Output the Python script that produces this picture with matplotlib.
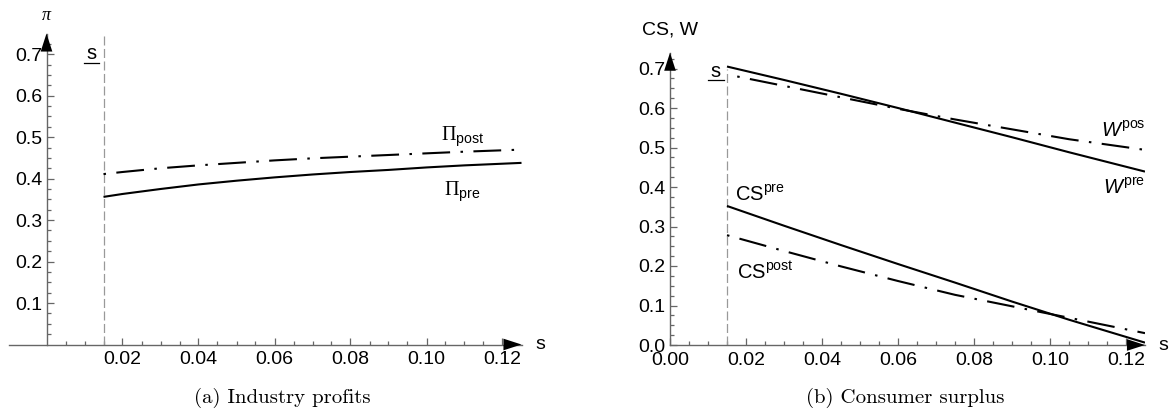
import matplotlib
matplotlib.use('Agg')
import matplotlib.pyplot as plt
from matplotlib.ticker import FixedLocator, FormatStrFormatter

plt.rcParams['font.family'] = ['Liberation Sans', 'DejaVu Sans']
plt.rcParams['mathtext.fontset'] = 'custom'
plt.rcParams['mathtext.rm'] = 'Liberation Serif'
plt.rcParams['mathtext.sf'] = 'Liberation Sans'
plt.rcParams['mathtext.it'] = 'Liberation Sans:italic'
plt.rcParams['lines.scale_dashes'] = False

# ---------------- data ----------------
s_left = [0.015, 0.02, 0.03, 0.04, 0.05, 0.06, 0.07, 0.08, 0.09, 0.10, 0.11, 0.125]
pi_pre = [0.356, 0.363, 0.375, 0.386, 0.395, 0.403, 0.410, 0.416, 0.421, 0.427, 0.432, 0.438]
pi_post = [0.411, 0.416, 0.425, 0.432, 0.438, 0.444, 0.449, 0.453, 0.457, 0.461, 0.465, 0.470]

s_right = [0.015, 0.03, 0.045, 0.06, 0.075, 0.09, 0.105, 0.125]
w_pre = [0.705, 0.671, 0.636, 0.600, 0.563, 0.526, 0.488, 0.439]
w_post = [0.685, 0.656, 0.627, 0.598, 0.571, 0.546, 0.521, 0.494]
cs_pre = [0.352, 0.302, 0.253, 0.205, 0.158, 0.110, 0.064, 0.006]
cs_post = [0.278, 0.238, 0.199, 0.162, 0.127, 0.098, 0.069, 0.030]

s_lower = 0.015
left_xticks = [0.02, 0.04, 0.06, 0.08, 0.10, 0.12]
left_yticks = [0.1, 0.2, 0.3, 0.4, 0.5, 0.6, 0.7]
right_xticks = [0.00, 0.02, 0.04, 0.06, 0.08, 0.10, 0.12]
right_yticks = [0.0, 0.1, 0.2, 0.3, 0.4, 0.5, 0.6, 0.7]
minor_x = [i * 0.005 for i in range(1, 25) if i % 4 != 0]
minor_y = [i * 0.025 for i in range(1, 30) if i % 4 != 0]

DASHDOT = (20, 7.5, 1.8, 7.5)
AX_COLOR = '#666666'
TICK_FS = 14
LAB_FS = 14.5

fig = plt.figure(figsize=(11.71, 4.13), dpi=100)
axL = fig.add_axes([8.5 / 1171, (413 - 344.5) / 413, 513 / 1171, 311 / 413])
axR = fig.add_axes([670 / 1171, (413 - 345) / 413, 475 / 1171, 292.3 / 413])


def style_axes(ax, xlim, ylim, xticks, yticks, xfmt, yfmt):
    ax.set_xlim(*xlim)
    ax.set_ylim(*ylim)
    for sp in ['top', 'right']:
        ax.spines[sp].set_visible(False)
    ax.spines['left'].set_position(('data', 0))
    ax.spines['bottom'].set_position(('data', 0))
    for sp in ['left', 'bottom']:
        ax.spines[sp].set_color(AX_COLOR)
        ax.spines[sp].set_linewidth(1.0)
    ax.xaxis.set_major_locator(FixedLocator(xticks))
    ax.yaxis.set_major_locator(FixedLocator(yticks))
    ax.xaxis.set_minor_locator(FixedLocator([m for m in minor_x if m < xlim[1]]))
    ax.yaxis.set_minor_locator(FixedLocator([m for m in minor_y if m < ylim[1]]))
    ax.xaxis.set_major_formatter(FormatStrFormatter(xfmt))
    ax.yaxis.set_major_formatter(FormatStrFormatter(yfmt))
    ax.tick_params(which='both', direction='in', color=AX_COLOR, width=0.9,
                   labelsize=TICK_FS, labelcolor='black')
    ax.tick_params(which='major', length=5)
    ax.tick_params(which='minor', length=3)
    ax.tick_params(axis='x', pad=5)
    ax.tick_params(axis='y', pad=3)
    ap = dict(arrowstyle='-|>,head_length=1.3,head_width=0.42', mutation_scale=10,
              fc='black', ec='black', lw=0, shrinkA=0, shrinkB=0)
    ax.annotate('', xy=(xlim[1], 0), xytext=(xlim[1] - 0.01, 0), arrowprops=ap,
                annotation_clip=False)
    ax.annotate('', xy=(0, ylim[1]), xytext=(0, ylim[1] - 0.05), arrowprops=ap,
                annotation_clip=False)
    ax.annotate('s', xy=(xlim[1], 0), xytext=(10, 0), textcoords='offset points',
                ha='left', va='center', fontsize=TICK_FS, annotation_clip=False)


# ---------------- left panel ----------------
style_axes(axL, (-0.01, 0.125), (0, 0.75), left_xticks, left_yticks, '%.2f', '%.1f')
axL.plot([s_lower, s_lower], [0, 0.75], color='#999999', lw=0.9, ls=(0, (6.5, 2.5)))
axL.plot(s_left, pi_pre, color='black', lw=1.5, solid_capstyle='butt')
axL.plot(s_left, pi_post, color='black', lw=1.5, ls=(27.5, DASHDOT), dash_capstyle='butt')
axL.text(0.1095, 0.50, r'$\Pi_{\mathsf{post}}$', ha='center', va='center', fontsize=LAB_FS)
axL.text(0.1095, 0.368, r'$\Pi_{\mathsf{pre}}$', ha='center', va='center', fontsize=LAB_FS)
axL.text(0.0118, 0.688, 's', ha='center', va='baseline', fontsize=LAB_FS)
axL.plot([0.0098, 0.0138], [0.680, 0.680], color='black', lw=0.9)
axL.annotate('π', xy=(0, 0.75), xytext=(0, 13), textcoords='offset points',
             ha='center', va='center', fontsize=13, family='Liberation Serif',
             style='italic', annotation_clip=False)

# ---------------- right panel ----------------
style_axes(axR, (0, 0.125), (0, 0.74), right_xticks, right_yticks, '%.2f', '%.1f')
axR.plot([s_lower, s_lower], [0, 0.70], color='#999999', lw=0.9, ls=(0, (6.5, 2.5)))
axR.plot(s_right, w_pre, color='black', lw=1.5, solid_capstyle='butt')
axR.plot(s_right, w_post, color='black', lw=1.5, ls=(20, DASHDOT), dash_capstyle='butt')
axR.plot(s_right, cs_pre, color='black', lw=1.5, solid_capstyle='butt')
axR.plot(s_right, cs_post, color='black', lw=1.5, ls=(27.5, DASHDOT), dash_capstyle='butt')
axR.text(0.0237, 0.38, r'$\mathsf{CS}^{\mathsf{pre}}$', ha='center', va='center', fontsize=LAB_FS)
axR.text(0.025, 0.185, r'$\mathsf{CS}^{\mathsf{post}}$', ha='center', va='center', fontsize=LAB_FS)
axR.text(0.1133, 0.544, r'$W^{\mathsf{post}}$', ha='left', va='center', fontsize=LAB_FS,
         clip_on=True)
axR.text(0.1140, 0.398, r'$W^{\mathsf{pre}}$', ha='left', va='center', fontsize=LAB_FS,
         clip_on=True)
axR.text(0.0121, 0.679, 's', ha='center', va='baseline', fontsize=LAB_FS)
axR.plot([0.0101, 0.0141], [0.672, 0.672], color='black', lw=0.9)
axR.annotate('CS, W', xy=(0, 0.74), xytext=(0, 16), textcoords='offset points',
             ha='center', va='center', fontsize=TICK_FS, annotation_clip=False)

# ---------------- captions ----------------
fig.text(282 / 1171, 1 - 398 / 413, '(a) Industry profits', ha='center', va='center',
         fontsize=15, family='cmr10')
fig.text(905 / 1171, 1 - 398 / 413, '(b) Consumer surplus', ha='center', va='center',
         fontsize=15, family='cmr10')

fig.savefig('out.png', dpi=100)
